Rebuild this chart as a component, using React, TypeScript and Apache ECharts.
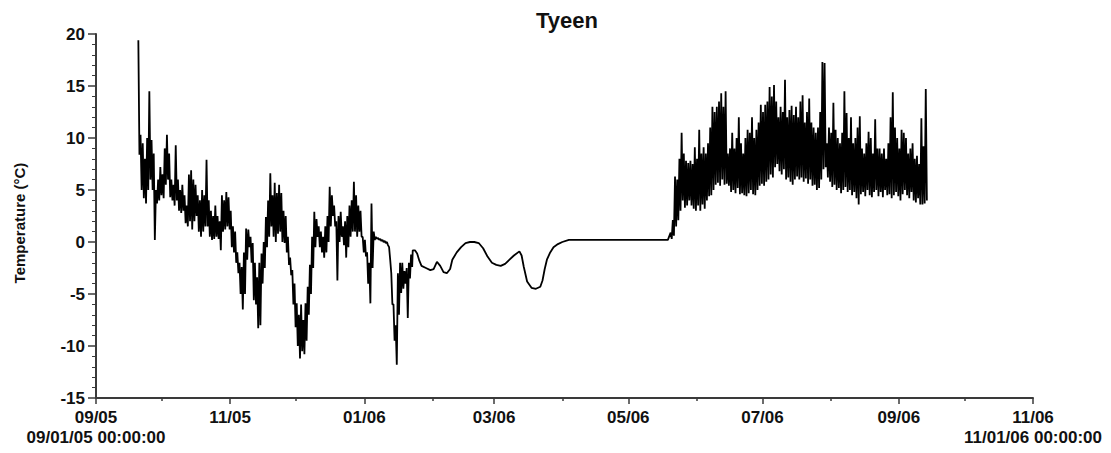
import React, { useEffect, useRef } from "react";
import * as echarts from "echarts";

// Day offsets counted from 09/01/05 00:00:00
const tickDays = [0, 61, 122, 181, 242, 303, 365, 426];
const tickLabels = ["09/05", "11/05", "01/06", "03/06", "05/06", "07/06", "09/06", "11/06"];
const endLabels = ["09/01/05 00:00:00", "11/01/06 00:00:00"];
const minorDays = [30, 91, 153, 212, 273, 334, 395];
const chartTitle = "Tyeen";
const yAxisTitle = "Temperature (°C)";

// Autumn / early winter: daily high and low, starting at day 19 (Sep 20 2005)
const autumnStartDay = 19;
const autumnHigh = [
  19.4, 10.3, 9.5, 8.0, 10.0, 14.5, 9.8, 8.5, 5.0, 6.0,
  7.2, 6.5, 9.0, 10.3, 8.5, 6.0, 5.5, 9.3, 6.0, 5.0,
  5.5, 4.5, 3.5, 6.5, 6.9, 6.0, 5.5, 4.5, 4.0, 5.0,
  4.5, 7.9, 4.0, 3.0, 2.5, 3.5, 2.5, 2.0, 4.5, 4.0,
  4.8, 4.3, 3.0, 1.5, 1.0, -1.0, -2.0, -2.4, -1.0, 1.3,
  1.2, 0.5, -0.1, -2.0, -3.4, -2.0, -1.1, 0.0, 2.4, 4.0,
  6.6, 4.5, 5.7, 4.7, 5.5, 4.7, 3.0, 2.5, 0.5, -1.5,
  -2.7, -4.0, -5.9, -7.0, -6.0, -7.5, -5.9, -4.3, -2.2, 0.5,
  2.9, 2.2, 1.5, 1.0, 0.5, 1.5, 2.5, 5.3, 4.5, 3.5,
  2.0, 2.5, 2.9, 1.5, 2.0, 2.5, 3.5, 4.0, 5.8, 4.5,
  3.5, 3.0, 0.5, 0.2, -1.0, -2.0, 3.7, 1.0, 0.5, 0.4,
  0.3, 0.2, 0.1, 0.0, -0.5, -3.0, -6.0, -8.0, -3.0, -2.0,
  -2.0, -2.8, -2.5, -2.0, -1.2,
];
const autumnLow = [
  8.4, 5.0, 4.2, 3.7, 5.0, 6.0, 5.0, 0.2, 3.7, 4.0,
  4.5, 4.2, 5.5, 6.0, 4.3, 4.0, 3.5, 4.0, 3.0, 2.8,
  3.0, 1.8, 1.5, 2.0, 1.2, 2.0, 2.5, 1.0, 0.5, 1.0,
  1.5, 1.5, 0.5, 0.2, 0.3, 0.5, 0.3, -0.8, 1.0, 1.2,
  1.5, 1.2, -0.5, -1.0, -2.0, -3.0, -5.0, -6.5, -5.0, -1.7,
  -0.5, -2.0, -5.6, -6.0, -8.3, -8.0, -4.0, -2.5, -0.5, 0.5,
  1.5, 0.5, 0.0, 0.8, 1.0, 0.0, -0.1, -1.0, -2.2, -3.2,
  -6.0, -8.2, -10.0, -11.2, -10.5, -10.8, -9.5, -7.0, -5.0, -2.5,
  -0.5, 0.5, -0.5, -1.0, -1.5, -1.0, 0.0, 1.5, 2.5, 1.5,
  -3.7, 0.0, 0.5, -0.3, -1.5, -0.5, 0.5, 1.0, 1.0, 0.5,
  1.0, 0.5, -1.0, -1.4, -4.0, -5.9, -2.5, 0.2, 0.3, 0.2,
  0.1, 0.0, -0.1, -0.3, -1.7, -6.0, -9.5, -11.8, -7.0, -4.9,
  -4.5, -4.0, -7.3, -3.5, -2.4,
];

// Smooth winter / spring record (ice-covered)
const winterDays = [
  144, 145, 146, 147, 148, 150, 152, 153.5, 155, 156.5, 158, 159.5, 161, 162, 164, 166, 168, 170,
  172, 174, 176, 178, 180, 182, 184, 186, 188, 190, 192.5, 193.5, 194.5, 196, 198, 200, 202, 203,
  204, 205, 206.5, 208, 210, 212, 215, 230, 245, 260,
];
const winterValues = [
  -0.8, -0.8, -1.1, -1.8, -2.3, -2.5, -2.7, -2.6, -1.9, -2.3, -2.9, -3.0, -2.6, -1.7, -1.0, -0.5, -0.1, 0.0,
  0.0, -0.1, -0.6, -1.4, -2.0, -2.2, -2.3, -2.1, -1.7, -1.3, -0.9, -1.3, -2.4, -3.8, -4.4, -4.5, -4.3, -3.7,
  -2.6, -1.7, -1.0, -0.5, -0.2, 0.0, 0.2, 0.2, 0.2, 0.2,
];

// Summer: daily high and low, starting at day 261 (May 20 2006)
const summerStartDay = 261;
const summerHigh = [
  0.9, 2.1, 6.3, 6.0, 8.0, 10.5, 8.5, 7.8, 7.6, 7.8,
  7.5, 9.1, 8.0, 10.8, 8.5, 9.1, 8.5, 9.5, 11.0, 13.0,
  12.5, 13.0, 13.5, 14.3, 13.0, 14.5, 8.5, 9.0, 10.5, 9.0,
  10.0, 12.0, 9.5, 8.5, 10.0, 10.8, 10.5, 12.0, 10.0, 10.8,
  11.5, 13.2, 12.5, 13.2, 13.5, 14.9, 14.0, 15.1, 13.5, 12.0,
  13.0, 12.5, 15.6, 12.0, 12.7, 13.1, 12.2, 13.0, 12.0, 13.5,
  14.1, 11.5, 12.5, 13.8, 11.5, 11.0, 10.5, 11.0, 12.5, 17.3,
  17.2, 9.5, 11.0, 10.5, 13.4, 10.8, 10.0, 9.5, 10.5, 14.5,
  12.4, 10.0, 12.0, 9.5, 10.0, 11.0, 12.1, 9.0, 8.5, 9.5,
  10.6, 10.0, 8.5, 11.8, 9.0, 9.0, 8.5, 9.0, 8.0, 9.5,
  12.0, 14.4, 11.0, 10.0, 9.0, 10.8, 10.5, 10.0, 8.5, 9.0,
  9.5, 8.0, 8.3, 7.5, 11.9, 9.2, 14.7,
];
const summerLow = [
  0.3, 0.6, 1.5, 2.1, 3.0, 4.0, 3.3, 3.5, 4.0, 3.5,
  3.2, 3.0, 3.5, 3.0, 3.6, 3.2, 4.0, 4.4, 4.5, 5.0,
  5.5, 5.7, 5.4, 6.0, 5.5, 5.6, 5.4, 4.8, 5.0, 4.7,
  5.2, 4.6, 4.7, 4.5, 4.4, 4.7, 5.0, 4.6, 4.5, 5.0,
  5.4, 5.6, 5.4, 5.8, 6.0, 6.5, 6.2, 7.2, 7.5, 6.8,
  6.5, 7.0, 6.0, 6.2, 5.8, 5.5, 6.0, 6.3, 6.0, 6.2,
  5.8, 6.1, 5.6, 6.0, 5.4, 5.5, 5.0, 5.2, 6.0, 7.0,
  7.2, 6.2, 5.8, 5.3, 5.5, 5.0, 5.2, 4.7, 5.0, 5.3,
  4.8, 5.0, 4.5, 4.8, 4.2, 3.6, 4.6, 4.8, 4.4, 5.0,
  4.5, 4.3, 4.8, 5.0, 4.4, 4.8, 4.3, 5.0, 4.5, 4.6,
  4.2, 4.5, 4.8, 4.4, 4.0, 4.6, 5.0, 4.5, 4.2, 4.8,
  4.0, 3.8, 4.2, 3.6, 3.6, 3.7, 4.0,
];

function buildSeries(): [number, number][] {
  const out: [number, number][] = [];
  autumnHigh.forEach((h, i) => {
    const d = autumnStartDay + i;
    out.push([d + 0.25, h]);
    out.push([d + 0.75, autumnLow[i]]);
  });
  winterDays.forEach((d, i) => out.push([d, winterValues[i]]));
  summerHigh.forEach((h, i) => {
    const d = summerStartDay + i;
    out.push([d + 0.25, h]);
    out.push([d + 0.75, summerLow[i]]);
  });
  return out;
}

const FONT = "'Liberation Sans', Arial, Helvetica, sans-serif";

export default function App() {
  const ref = useRef<HTMLDivElement>(null);
  useEffect(() => {
    if (!ref.current) return;
    const chart = echarts.init(ref.current, undefined, { renderer: "svg" });
    const axisColor = "#3a3a3a";
    chart.setOption({
      animation: false,
      backgroundColor: "#ffffff",
      title: {
        text: chartTitle,
        left: 531,
        top: 4,
        textStyle: { fontFamily: FONT, fontWeight: "bold", fontSize: 22, color: "#111" },
      },
      graphic: [
        {
          type: "text",
          x: 19,
          y: 223,
          rotation: Math.PI / 2,
          style: {
            text: yAxisTitle,
            fontFamily: FONT,
            fontWeight: "bold",
            fontSize: 15,
            fill: "#111",
            align: "center",
            verticalAlign: "middle",
          },
        },
      ],
      grid: { left: 96, right: 78, top: 34, bottom: 55, containLabel: false },
      xAxis: [
        {
          type: "value",
          min: 0,
          max: 426,
          splitLine: { show: false },
          axisLine: { show: true, onZero: false, lineStyle: { color: axisColor, width: 2 } },
          axisTick: { show: true, length: 6, customValues: tickDays, lineStyle: { color: axisColor, width: 1.5 } },
          axisLabel: {
            customValues: tickDays,
            margin: 9,
            fontFamily: FONT,
            fontWeight: "bold",
            fontSize: 17,
            lineHeight: 20,
            color: "#111",
            formatter: (v: number) => {
              const i = tickDays.indexOf(Math.round(v));
              if (i < 0) return "";
              if (i === 0) return tickLabels[i] + "\n" + endLabels[0];
              if (i === tickDays.length - 1) return tickLabels[i] + "\n" + endLabels[1];
              return tickLabels[i];
            },
          },
        },
        {
          type: "value",
          min: 0,
          max: 426,
          position: "bottom",
          splitLine: { show: false },
          axisLine: { show: false, onZero: false },
          axisTick: { show: true, length: 3, customValues: minorDays, lineStyle: { color: axisColor, width: 1.5 } },
          axisLabel: { show: false },
        },
      ],
      yAxis: {
        type: "value",
        min: -15,
        max: 20,
        interval: 5,
        splitLine: { show: false },
        axisLine: { show: true, onZero: false, lineStyle: { color: axisColor, width: 2 } },
        axisTick: { show: true, length: 8, lineStyle: { color: axisColor, width: 1.5 } },
        minorTick: { show: true, splitNumber: 5, length: 4, lineStyle: { color: axisColor, width: 1 } },
        axisLabel: { margin: 11, fontFamily: FONT, fontWeight: "bold", fontSize: 17, color: "#111" },
      },
      series: [
        {
          type: "line",
          xAxisIndex: 0,
          data: buildSeries(),
          showSymbol: false,
          symbol: "none",
          lineStyle: { color: "#000", width: 1.8 },
        },
      ],
    });
    return () => chart.dispose();
  }, []);
  return (
    <div
      ref={ref}
      style={{ position: "fixed", left: 0, top: 0, width: 1111, height: 453, background: "#fff" }}
    />
  );
}
